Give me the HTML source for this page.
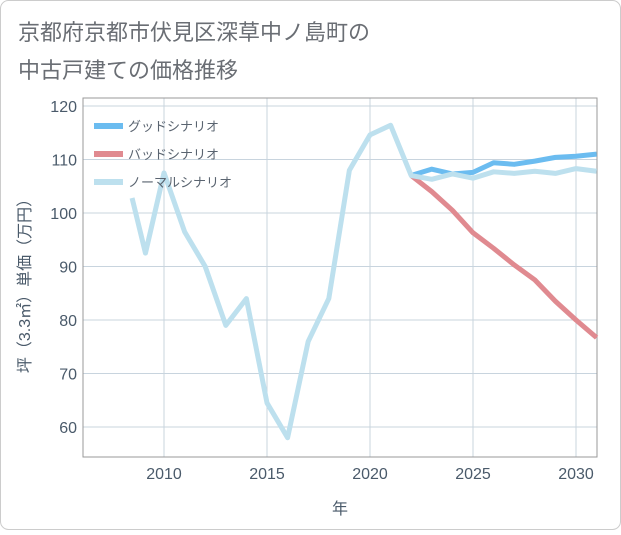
<!DOCTYPE html>
<html><head><meta charset="utf-8">
<style>
body{margin:0;background:#fff;}
#wrap{position:relative;width:621px;height:530px;font-family:"Liberation Sans","Noto Sans CJK JP",sans-serif;}
</style></head>
<body>
<div id="wrap">
<svg id="chart" width="621" height="530">
<rect x="0.5" y="0.5" width="620" height="529" rx="8" fill="#fff" stroke="#ccc"/>
<text x="18" y="40" font-size="22" fill="#6a6e74">京都府京都市伏見区深草中ノ島町の</text>
<text x="18" y="78" font-size="22" fill="#6a6e74">中古戸建ての価格推移</text>
<g id="grid"></g>
<g id="series"></g>
<g id="legend"></g>
<text x="340" y="514" font-size="16" fill="#4a5a6a" text-anchor="middle">年</text>
<text transform="translate(30,282) rotate(-90)" font-size="16" fill="#4a5a6a" text-anchor="middle">坪（3.3㎡）単価（万円）</text>
</svg>
</div>
<script>
const xTicks=[2010,2015,2020,2025,2030];
const yTicks=[60,70,80,90,100,110,120];
const normalYears=[2008.45,2009.1,2010,2011,2012,2013,2014,2015,2016,2017,2018,2019,2020,2021,2022,2023,2024,2025,2026,2027,2028,2029,2030,2031];
const normalVals=[102.8,92.5,107.5,96.5,90,79,84,64.5,58,76,84,108,114.6,116.4,107,106.3,107.3,106.5,107.7,107.4,107.8,107.4,108.3,107.8];
const goodYears=[2022,2023,2024,2025,2026,2027,2028,2029,2030,2031];
const goodVals=[107,108.2,107.3,107.6,109.4,109.1,109.7,110.4,110.6,111];
const badYears=[2022,2023,2024,2025,2026,2027,2028,2029,2030,2031];
const badVals=[107,104,100.5,96.3,93.4,90.3,87.5,83.5,80,76.7];
const L=83,R=597,T=98,B=457;
const x=v=>164+(v-2010)*20.6;
const y=v=>106+(120-v)*5.35;
const NS="http://www.w3.org/2000/svg";
function mk(t,a,p){const e=document.createElementNS(NS,t);for(const k in a)e.setAttribute(k,a[k]);p.appendChild(e);return e;}
const grid=document.getElementById('grid');
yTicks.forEach(v=>{
const l=mk('line',{x1:L,x2:R,y1:y(v),y2:y(v),stroke:'#c8d4de','stroke-width':1},grid);


const t=mk('text',{x:L-6,y:y(v)+6,'text-anchor':'end','font-size':16,fill:'#4a5a6a'},grid);t.textContent=v;


});
xTicks.forEach(v=>{
const l=mk('line',{x1:x(v),x2:x(v),y1:T,y2:B,stroke:'#c8d4de','stroke-width':1},grid);


const t=mk('text',{x:x(v),y:B+22,'text-anchor':'middle','font-size':16,fill:'#4a5a6a'},grid);t.textContent=v;


});
const fr=mk('rect',{x:L,y:T,width:R-L,height:B-T,fill:'none',stroke:'#999','stroke-width':1},grid);


const ser=document.getElementById('series');
function line(xs,vs,c,n){const p=mk('polyline',{points:xs.map((d,i)=>x(d)+','+y(vs[i])).join(' '),fill:'none',stroke:c,'stroke-width':5,'stroke-linejoin':'round'},ser);

}
line(badYears,badVals,'#e08a90','bad-scenario-line');
line(goodYears,goodVals,'#6bbcf0','good-scenario-line');
line(normalYears,normalVals,'#bde0ee','normal-scenario-line');
const lg=document.getElementById('legend');
[['グッドシナリオ','#6bbcf0','legend-good'],['バッドシナリオ','#e08a90','legend-bad'],['ノーマルシナリオ','#bde0ee','legend-normal']].forEach((d,i)=>{
const g=mk('g',{},lg);


mk('rect',{x:94,y:123+i*28,width:29,height:6,fill:d[1]},g);
const t=mk('text',{x:128,y:131+i*28,'font-size':13,fill:'#5a6470'},g);t.textContent=d[0];
});
</script>
</body></html>
